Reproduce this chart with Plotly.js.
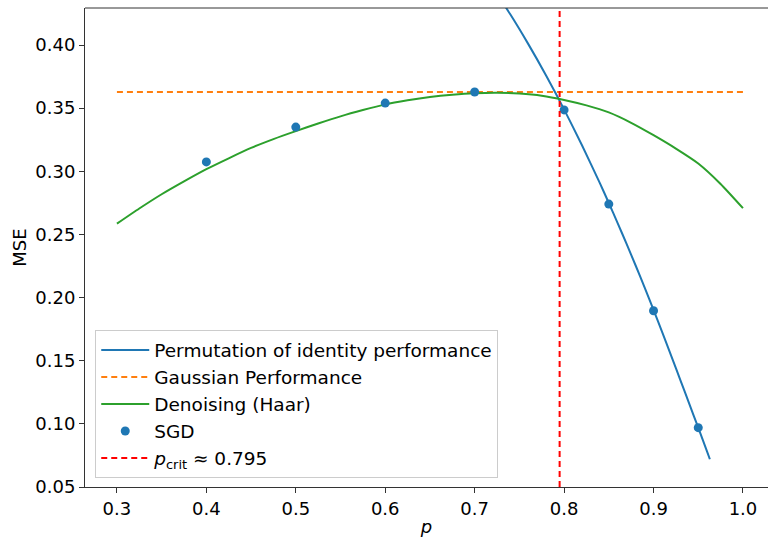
<!DOCTYPE html>
<html>
<head>
<meta charset="utf-8">
<script src="https://cdn.plot.ly/plotly-3.0.1.min.js"></script>
<style>
  html, body { margin: 0; padding: 0; background: #ffffff; }
  #chart { width: 769px; height: 537px; }
</style>
</head>
<body>
<div id="chart"></div>
<script>
// Permutation-of-identity MSE curve
const permX = [0.70, 0.72, 0.74, 0.76, 0.78, 0.80, 0.82, 0.84, 0.85, 0.86, 0.87, 0.88, 0.89, 0.90, 0.91, 0.92, 0.93, 0.94, 0.95, 0.96, 0.963];
const permY = [0.4657, 0.4457, 0.4241, 0.4007, 0.3757, 0.349, 0.3206, 0.2906, 0.2749, 0.2588, 0.2423, 0.2254, 0.2080, 0.1903, 0.1721, 0.1535, 0.1347, 0.1158, 0.0970, 0.0778, 0.0720];

// Gaussian baseline
const gaussX = [0.3, 1.0];
const gaussY = [0.3628, 0.3628];

// Haar denoising curve
const haarX = [0.300, 0.325, 0.350, 0.375, 0.400, 0.425, 0.450, 0.475, 0.500, 0.525, 0.550, 0.575, 0.600, 0.625, 0.650, 0.675, 0.700, 0.725, 0.750, 0.775, 0.800, 0.825, 0.850, 0.875, 0.900, 0.925, 0.950, 0.975, 1.000];
const haarY = [0.2585, 0.2705, 0.2818, 0.2920, 0.3017, 0.3103, 0.3185, 0.3255, 0.3318, 0.3378, 0.3435, 0.3485, 0.3530, 0.3562, 0.3588, 0.3606, 0.3618, 0.3622, 0.3615, 0.3598, 0.3565, 0.3522, 0.3466, 0.3384, 0.3286, 0.3180, 0.3062, 0.2900, 0.2708];

// SGD runs
const sgdX = [0.4, 0.5, 0.6, 0.7, 0.8, 0.85, 0.9, 0.95];
const sgdY = [0.3074, 0.335, 0.354, 0.3628, 0.3486, 0.274, 0.1896, 0.097];

// Critical threshold
const pCrit = 0.795;
const critX = [pCrit, pCrit];

// Axis settings
const xRange = [0.2643, 1.028];
const yRange = [0.05, 0.4293];
const xTicks = [0.3, 0.4, 0.5, 0.6, 0.7, 0.8, 0.9, 1.0];
const xTickText = ["0.3", "0.4", "0.5", "0.6", "0.7", "0.8", "0.9", "1.0"];
const yTicks = [0.05, 0.10, 0.15, 0.20, 0.25, 0.30, 0.35, 0.40];
const yTickText = ["0.05", "0.10", "0.15", "0.20", "0.25", "0.30", "0.35", "0.40"];

const FONT = "DejaVu Sans, sans-serif";

const traces = [
  {
    x: permX, y: permY, type: "scatter", mode: "lines",
    name: "Permutation of identity performance",
    line: { color: "#1f77b4", width: 2, shape: "spline", smoothing: 0.6 }
  },
  {
    x: gaussX, y: gaussY, type: "scatter", mode: "lines",
    name: "Gaussian Performance",
    line: { color: "#ff7f0e", width: 2, dash: "6px,4px" }
  },
  {
    x: haarX, y: haarY, type: "scatter", mode: "lines",
    name: "Denoising (Haar)",
    line: { color: "#2ca02c", width: 2, shape: "spline", smoothing: 0.6 }
  },
  {
    x: sgdX, y: sgdY, type: "scatter", mode: "markers",
    name: "SGD",
    marker: { color: "#1f77b4", size: 9 }
  },
  {
    x: critX, y: yRange, type: "scatter", mode: "lines",
    name: "<i>p</i><sub>crit</sub> ≈ 0.795",
    line: { color: "#ff0000", width: 2, dash: "6px,4px" }
  }
];

const layout = {
  width: 769,
  height: 537,
  margin: { l: 85, r: 1, t: 8, b: 50 },
  paper_bgcolor: "#ffffff",
  plot_bgcolor: "#ffffff",
  font: { family: FONT, size: 18, color: "#000000" },
  showlegend: true,
  legend: {
    x: 0.015, y: 0.018, xanchor: "left", yanchor: "bottom",
    bgcolor: "rgba(255,255,255,0.8)",
    bordercolor: "#cccccc", borderwidth: 1,
    itemwidth: 48,
    font: { family: FONT, size: 18.5, color: "#000000" }
  },
  xaxis: {
    range: xRange,
    tickvals: xTicks, ticktext: xTickText,
    showgrid: false, zeroline: false,
    showline: true, linecolor: "#333333", linewidth: 1,
    ticks: "outside", ticklen: 5, tickcolor: "#333333", tickwidth: 1,
    tickfont: { family: FONT, size: 18, color: "#000000" },
    title: { text: "<i>p</i>", font: { family: FONT, size: 18 }, standoff: 6 }
  },
  yaxis: {
    range: yRange,
    tickvals: yTicks, ticktext: yTickText,
    showgrid: false, zeroline: false,
    showline: true, linecolor: "#333333", linewidth: 1,
    ticks: "outside", ticklen: 5, tickcolor: "#333333", tickwidth: 1,
    tickfont: { family: FONT, size: 18, color: "#000000" },
    title: { text: "MSE", font: { family: FONT, size: 18 }, standoff: 4 }
  },
  shapes: [
    {
      type: "line", xref: "paper", yref: "paper",
      x0: 0, x1: 1, y0: 1, y1: 1,
      line: { color: "#333333", width: 1 }
    }
  ]
};

Plotly.newPlot("chart", traces, layout, { displayModeBar: false, staticPlot: true });
</script>
</body>
</html>
